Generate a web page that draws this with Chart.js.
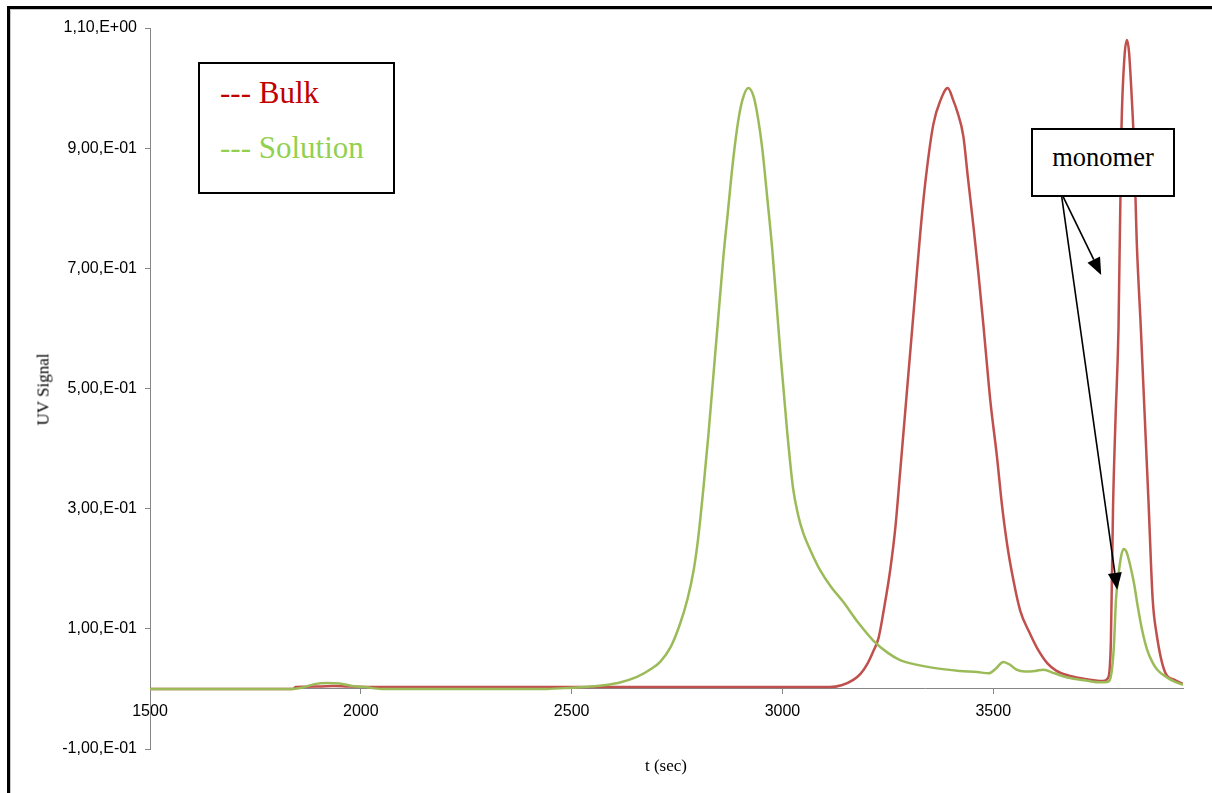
<!DOCTYPE html>
<html>
<head>
<meta charset="utf-8">
<script src="https://cdn.jsdelivr.net/npm/chart.js@4.4.1/dist/chart.umd.min.js"></script>
<style>
html,body{margin:0;padding:0;background:#fff;}
#wrap{position:relative;width:1212px;height:793px;overflow:hidden;background:#fff;}
#frame{position:absolute;left:7px;top:6px;width:1230px;height:820px;border-left:3px solid #000;border-top:3px solid #000;box-shadow:inset 1px 1px 0 #c8c8c8;box-sizing:border-box;}
#chartBox{position:absolute;left:0;top:0;width:1212px;height:793px;}
.box{position:absolute;border:2px solid #000;background:#fff;box-sizing:border-box;}
.serif{position:absolute;font-family:"Liberation Serif","Times New Roman",serif;white-space:nowrap;line-height:1;}
</style>
</head>
<body>
<div id="wrap">
  <div id="frame"></div>
  <div id="chartBox"><canvas id="c" width="1212" height="793"></canvas></div>
  <div class="box" style="left:198px;top:62px;width:197px;height:132px;"></div>
  <div class="serif" style="left:220px;top:77px;font-size:31px;color:#C00000;">--- Bulk</div>
  <div class="serif" style="left:220px;top:132px;font-size:31px;color:#92D050;">--- Solution</div>
  <div class="box" style="left:1031px;top:128px;width:144px;height:69px;"></div>
  <div class="serif" style="left:1031px;top:144px;width:144px;text-align:center;font-size:26.5px;color:#000;">monomer</div>
  <div class="serif" style="left:-7px;top:381px;width:100px;text-align:center;font-size:17px;color:#000;transform:rotate(-90deg);">UV Signal</div>
  <div class="serif" style="left:606px;top:757px;width:120px;text-align:center;font-size:17px;color:#000;">t (sec)</div>
</div>
<script>
// ---- data ----
const solutionTime = [1500,1830,1860,1890,1920,1950,1980,2010,2050,2440,
  2500,2545,2610,2655,2690,2710,2735,2757,2775,2790,
  2800,2812,2824,2836,2848,2860,2870,2883,2895,2905,2919,
  2932,2942,2952,2965,2976,2985,2995,3011,3025,3037,
  3049,3070,3089,3115,3144,3180,3216,3250,3279,3320,
  3358,3420,3462,3490,3505,3524,3540,3555,3575,3600,
  3619,3645,3676,3720,3754,3772,3780,3786,3791,3797,
  3803,3809,3816,3825,3834,3842,3853,3865,3877,3889,
  3910,3930,3950];
const solutionSignal = [0,0,0.002,0.008,0.01,0.009,0.005,0.003,0,0,
  0.002,0.004,0.01,0.02,0.034,0.045,0.07,0.108,0.15,0.2,
  0.25,0.33,0.42,0.52,0.62,0.72,0.79,0.88,0.945,0.98,1.0,
  0.985,0.95,0.9,0.81,0.73,0.65,0.56,0.43,0.335,0.29,
  0.26,0.225,0.198,0.17,0.145,0.11,0.08,0.06,0.048,0.04,
  0.035,0.03,0.028,0.026,0.033,0.045,0.04,0.032,0.029,0.03,
  0.032,0.026,0.019,0.014,0.011,0.012,0.025,0.07,0.148,0.19,
  0.22,0.233,0.228,0.205,0.175,0.14,0.098,0.065,0.045,0.032,
  0.02,0.012,0.007];

const bulkTime = [1500,1840,1845,1900,1935,1970,2050,2500,3000,3112,
  3140,3168,3185,3200,3215,3228,3240,3256,3268,3279,
  3291,3303,3315,3327,3340,3358,3375,3392,3405,3415,
  3429,3440,3453,3465,3476,3485,3493,3509,3520,3533,
  3548,3564,3585,3604,3628,3650,3680,3723,3760,3772,
  3779,3784,3790,3797,3804,3811,3817,3822,3828,3834,
  3840,3850,3868,3878,3887,3908,3930,3950];
const bulkSignal = [0,0,0.003,0.004,0.005,0.004,0.003,0.003,0.003,0.003,
  0.006,0.015,0.025,0.04,0.062,0.085,0.13,0.2,0.27,0.36,
  0.46,0.56,0.66,0.76,0.85,0.94,0.98,1.0,0.98,0.96,
  0.92,0.85,0.77,0.69,0.61,0.54,0.48,0.385,0.31,0.24,
  0.18,0.13,0.095,0.068,0.043,0.03,0.022,0.016,0.013,0.018,
  0.08,0.3,0.45,0.6,0.93,1.05,1.08,1.06,0.99,0.9,
  0.75,0.6,0.315,0.15,0.093,0.027,0.015,0.008];

const xTicks = [1500, 2000, 2500, 3000, 3500];
const xTickLabels = ['1500', '2000', '2500', '3000', '3500'];
const yTicks = [-0.1, 0.1, 0.3, 0.5, 0.7, 0.9, 1.1];
const yTickLabels = ['-1,00,E-01', '1,00,E-01', '3,00,E-01', '5,00,E-01', '7,00,E-01', '9,00,E-01', '1,10,E+00'];

// annotation arrows (data coordinates): from the "monomer" box to the two monomer peaks
const arrowFrom = [3661, 0.826];
const arrowTargets = [[3756, 0.689], [3794, 0.165]];

const toPoints = (xs, ys) => xs.map((x, i) => ({x: x, y: ys[i]}));

const arrowPlugin = {
  id: 'arrows',
  afterDatasetsDraw(chart) {
    const {ctx, scales: {x, y}} = chart;
    const x0 = x.getPixelForValue(arrowFrom[0]);
    const y0 = y.getPixelForValue(arrowFrom[1]);
    ctx.save();
    ctx.strokeStyle = '#000';
    ctx.fillStyle = '#000';
    ctx.lineWidth = 1.6;
    arrowTargets.forEach(t => {
      const x1 = x.getPixelForValue(t[0]);
      const y1 = y.getPixelForValue(t[1]);
      const ang = Math.atan2(y1 - y0, x1 - x0);
      const L = 17, W = 7;
      const bx = x1 - L * Math.cos(ang), by = y1 - L * Math.sin(ang);
      ctx.beginPath();
      ctx.moveTo(x0, y0);
      ctx.lineTo(bx, by);
      ctx.stroke();
      ctx.beginPath();
      ctx.moveTo(x1, y1);
      ctx.lineTo(bx + W * Math.sin(ang), by - W * Math.cos(ang));
      ctx.lineTo(bx - W * Math.sin(ang), by + W * Math.cos(ang));
      ctx.closePath();
      ctx.fill();
    });
    ctx.restore();
  }
};

const axisGray = '#868686';
const tickFont = {family: '"Liberation Sans", Arial, sans-serif', size: 16};

new Chart(document.getElementById('c'), {
  type: 'line',
  data: {
    datasets: [
      {
        label: 'Bulk',
        data: toPoints(bulkTime, bulkSignal),
        borderColor: '#C0504D',
        borderWidth: 2.5,
        pointRadius: 0,
        fill: false,
        cubicInterpolationMode: 'monotone',
        order: 1
      },
      {
        label: 'Solution',
        data: toPoints(solutionTime, solutionSignal),
        borderColor: '#9BBB59',
        borderWidth: 2.5,
        pointRadius: 0,
        fill: false,
        cubicInterpolationMode: 'monotone',
        order: 0
      }
    ]
  },
  options: {
    responsive: false,
    animation: false,
    events: [],
    layout: {padding: {left: 0, right: 29, top: 28, bottom: 44}},
    plugins: {legend: {display: false}, tooltip: {enabled: false}},
    scales: {
      x: {
        type: 'linear',
        position: {y: 0},
        min: 1500,
        max: 3950,
        afterBuildTicks: s => { s.ticks = xTicks.map(v => ({value: v})); },
        ticks: {
          color: '#000',
          font: tickFont,
          padding: 8,
          maxRotation: 0,
          autoSkip: false,
          callback: (v, i) => xTickLabels[i]
        },
        grid: {drawOnChartArea: false, drawTicks: true, tickLength: 5, color: axisGray, lineWidth: 1},
        border: {display: true, color: axisGray, width: 1}
      },
      y: {
        type: 'linear',
        position: 'left',
        min: -0.1,
        max: 1.1,
        afterBuildTicks: s => { s.ticks = yTicks.map(v => ({value: v})); },
        afterFit: s => { s.width = 150; },
        ticks: {
          color: '#000',
          font: tickFont,
          padding: 8,
          autoSkip: false,
          callback: (v, i) => yTickLabels[i]
        },
        grid: {drawOnChartArea: false, drawTicks: true, tickLength: 5, color: axisGray, lineWidth: 1},
        border: {display: true, color: axisGray, width: 1}
      }
    }
  },
  plugins: [arrowPlugin]
});
</script>
</body>
</html>
